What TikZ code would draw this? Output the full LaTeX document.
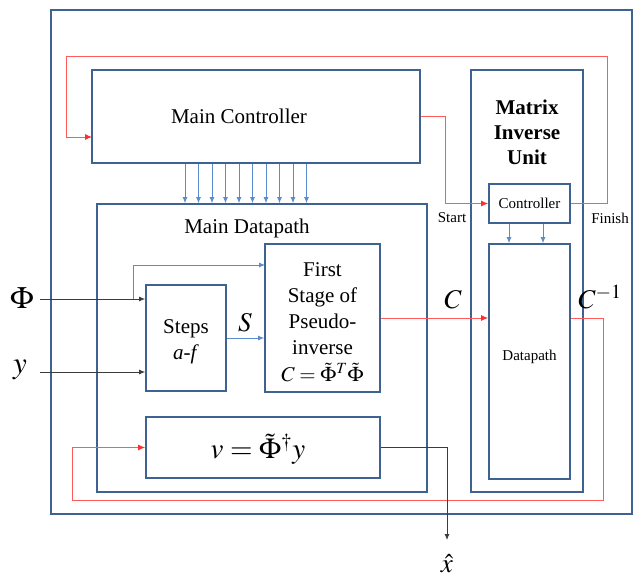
\documentclass[tikz,border=0pt]{standalone}
\usepackage{mathptmx}
\usepackage{fontspec}
\setmainfont{Liberation Serif}
\usetikzlibrary{arrows.meta,calc}
\definecolor{boxblue}{RGB}{62,98,145}
\definecolor{busblue}{RGB}{90,140,205}
\definecolor{sigred}{RGB}{255,45,45}
\definecolor{redwire}{RGB}{255,90,90}
\definecolor{outgray}{RGB}{60,60,60}
\tikzset{
  blk/.style={draw=boxblue, line width=1.8pt, fill=white, inner sep=0pt},
  big/.style={font=\fontsize{21}{26}\selectfont},
  bigbold/.style={font=\fontsize{21}{25}\selectfont\bfseries},
  small/.style={font=\fontsize{15}{18}\selectfont},
  mathlbl/.style={font=\fontsize{27}{30}\selectfont, inner sep=1pt},
  inlbl/.style={font=\fontsize{31}{34}\selectfont, inner sep=0pt},
  redarrow/.style={draw=redwire, line width=0.9pt, -{Latex[length=7pt,width=6pt,color=sigred]}},
  busarrow/.style={draw=busblue, line width=0.8pt, -{Latex[length=6pt,width=5pt]}},
  blackarrow/.style={draw=outgray, line width=0.8pt, -{Latex[length=6pt,width=5pt]}},
}
\begin{document}
\begin{tikzpicture}[x=1pt,y=-1pt]
\useasboundingbox (0,0) rectangle (634,578);
% boxes
\node[blk, minimum width=581, minimum height=504] (outer) at (341.5,262) {};
\node[blk, minimum width=328, minimum height=93] (mc) at (256,116.5) {};
\node[big] (mctext) at (239,116) {Main Controller};
\node[blk, minimum width=330, minimum height=288] (md) at (262,348) {};
\node[big] (mdtext) at (247,228) {Main Datapath};
\node[blk, minimum width=80, minimum height=106] (steps) at (186,338) {};
\node[big, align=center] (stepstext) at (186,342) {Steps\\\textit{a-f}};
\node[blk, minimum width=115, minimum height=148] (fs) at (322.5,318) {};
\node[big, align=center] (fstext) at (322.5,322) {First\\Stage of\\Pseudo-\\inverse\\[1pt]$C=\tilde{\Phi}^{T}\tilde{\Phi}$};
\node[blk, minimum width=234, minimum height=61] (vbox) at (263,447.5) {};
\node[font=\fontsize{29}{32}\selectfont] (vtext) at (258,449) {$v=\tilde{\Phi}^{\dagger}y$};
\node[blk, minimum width=112, minimum height=422] (miu) at (527,281) {};
\node[bigbold, align=center] (miutext) at (527,132) {Matrix\\Inverse\\Unit};
\node[blk, small, minimum width=81, minimum height=39] (ctrl) at (529.5,203.5) {Controller};
\node[blk, minimum width=81, minimum height=235] (dp) at (529.5,361.5) {};
\node[small] (dptext) at (529.5,357) {Datapath};
% labels
\node[small] (start) at (452,218) {Start};
\node[small] (finish) at (610,218) {Finish};
\node[mathlbl] (clbl) at (453,300) {$C$};
\node[mathlbl] (cinv) at (600,297) {$C^{-1}$};
\node[mathlbl] (slbl) at (245,323) {$S$};
\node[inlbl] (phi) at (22,298) {$\Phi$};
\node[inlbl] (ylbl) at (20,370) {$y$};
\node[mathlbl, inner sep=0pt] (xhat) at (447,564) {$\hat{x}$};
% coordinates
\coordinate (fbR) at (607,56);
\coordinate (fbL) at (66,56);
\coordinate (mcin) at (92,137);
\coordinate (lbR) at (603,500);
\coordinate (lbL) at (72,500);
\coordinate (tap) at (133,299);
\coordinate (fsin) at (265,265);
\coordinate (xout) at (447,540);
\coordinate (phiS) at (40,299);
\coordinate (yS) at (40,372);
% bus arrows
\foreach \i in {0,...,9}
  \draw[busarrow] ({185+13.5*\i},0 |- mc.south) -- ({185+13.5*\i},0 |- md.north);
\draw[busarrow] (509,0 |- ctrl.south) -- (509,0 |- dp.north);
\draw[busarrow] (543,0 |- ctrl.south) -- (543,0 |- dp.north);
% red control
\draw[redarrow] (ctrl.east) -| (fbR) -- (fbL) |- (mcin);
\draw[redarrow] (mc.east) -- ++(25,0) |- (ctrl.west);
\draw[redarrow] (fs.east) -- (fs.east -| dp.west);
\draw[redarrow] (fs.east -| dp.east) -| (lbR) -- (lbL) |- (vbox.west);
% inputs
\draw[blackarrow] (phiS) -- (phiS -| steps.west);
\draw[blackarrow] (yS) -- (yS -| steps.west);
\draw[busarrow] (tap) |- (fsin);
\draw[busarrow] (steps.east) -- (steps.east -| fs.west);
\draw[blackarrow] (vbox.east) -| (xout);
\end{tikzpicture}
\end{document}
